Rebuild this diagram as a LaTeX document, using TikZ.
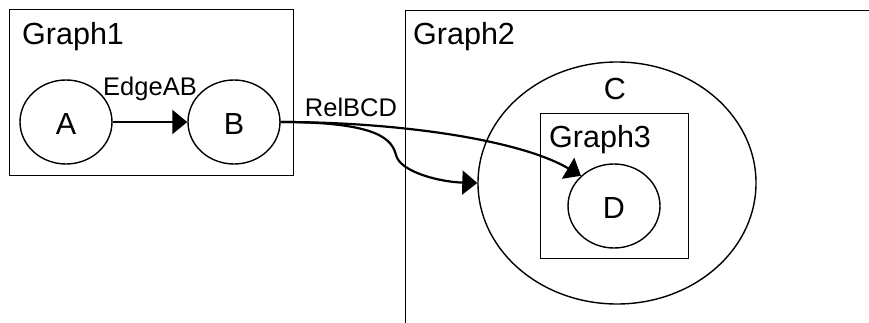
\documentclass[tikz,border=0pt]{standalone}
\usepackage{fontspec}
\setmainfont{Liberation Sans}
\usetikzlibrary{shapes.geometric,arrows.meta}
\begin{document}
\begin{tikzpicture}[x=1pt,y=-1pt,
  cluster/.style={draw,line width=1.4pt,rectangle,inner sep=0pt},
  gnode/.style={draw,line width=1.4pt,ellipse,inner sep=0pt,minimum width=92pt,minimum height=84pt},
  bigtext/.style={font=\fontsize{30.5}{36}\selectfont,inner sep=0pt},
  smalltext/.style={font=\fontsize{25.5}{30}\selectfont,inner sep=0pt},
  link/.style={line width=2.2pt,-{Triangle[length=15pt,width=24pt]}}]
\useasboundingbox (0,0) rectangle (869,323);
\clip (0,0) rectangle (869,323);

% clusters
\node[cluster,minimum width=284pt,minimum height=166pt,anchor=north west] (g1) at (9,9) {};
\node[cluster,minimum width=500pt,minimum height=340pt,anchor=north west] (g2) at (405,10) {};
\node[gnode,minimum width=278pt,minimum height=242pt] (C) at (617,183) {};
\node[cluster,minimum width=148pt,minimum height=145pt,anchor=north west] (g3) at (540,113) {};

% cluster titles
\node[bigtext,anchor=base west] (g1t) at (22,45) {Graph1};
\node[bigtext,anchor=base west] (g2t) at (413,45) {Graph2};
\node[bigtext,anchor=base west] (g3t) at (549,148) {Graph3};
\node[bigtext,anchor=base] (Ct) at (615,100) {C};

% nodes
\node[gnode] (A) at (66,122) {};
\node[bigtext,anchor=base] at (A.center) [yshift=-13pt] {A};
\node[gnode] (B) at (234,122) {};
\node[bigtext,anchor=base] at (B.center) [yshift=-13pt] {B};
\node[gnode] (D) at (614,206) {};
\node[bigtext,anchor=base] at (D.center) [yshift=-12pt] {D};

% edge labels
\node[smalltext,anchor=base] (lab1) at (150,96) {EdgeAB};
\node[smalltext,anchor=base] (lab2) at (351,117) {RelBCD};

% edges
\draw[link] (A.east) -- (B.west);
\draw[link] (B.east) .. controls (400,122) and (520,140) .. (D.north west);
\draw[link] (B.east) .. controls (380,122) and (392,140) .. (396,155)
  .. controls (400,172) and (440,182) .. (C.west);
\end{tikzpicture}
\end{document}
